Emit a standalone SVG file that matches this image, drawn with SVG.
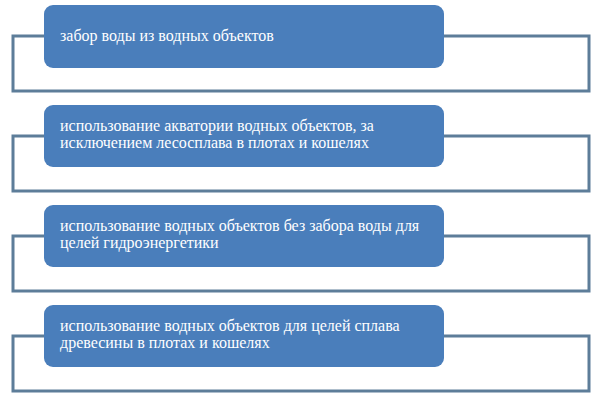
<svg xmlns="http://www.w3.org/2000/svg" width="603" height="406" viewBox="0 0 603 406">
<style>
.frame{fill:none;stroke:#5d7d99;stroke-width:3}
.box{fill:#4a7ebb}
.t{font-family:"Liberation Serif","Times New Roman",serif;font-size:16px;fill:#ffffff}
</style>
<rect width="603" height="406" fill="#ffffff"/>
<g id="connectors">
<rect class="frame" x="13" y="36" width="576" height="55"/>
<rect class="frame" x="13" y="136" width="576" height="55"/>
<rect class="frame" x="13" y="236" width="576" height="55"/>
<rect class="frame" x="13" y="336" width="576" height="55"/>
</g>
<g id="node1">
<rect class="box" x="44" y="5" width="400" height="63" rx="9"/>
<text class="t" x="60" y="41">забор воды из водных объектов</text>
</g>
<g id="node2">
<rect class="box" x="44" y="105" width="400" height="62" rx="9"/>
<text class="t" x="60" y="131">использование акватории водных объектов, за</text>
<text class="t" x="60" y="148">исключением лесосплава в плотах и кошелях</text>
</g>
<g id="node3">
<rect class="box" x="44" y="205" width="400" height="62" rx="9"/>
<text class="t" x="60" y="231">использование водных объектов без забора воды для</text>
<text class="t" x="60" y="248">целей гидроэнергетики</text>
</g>
<g id="node4">
<rect class="box" x="44" y="305" width="400" height="62" rx="9"/>
<text class="t" x="60" y="331">использование водных объектов для целей сплава</text>
<text class="t" x="60" y="348">древесины в плотах и кошелях</text>
</g>
</svg>
